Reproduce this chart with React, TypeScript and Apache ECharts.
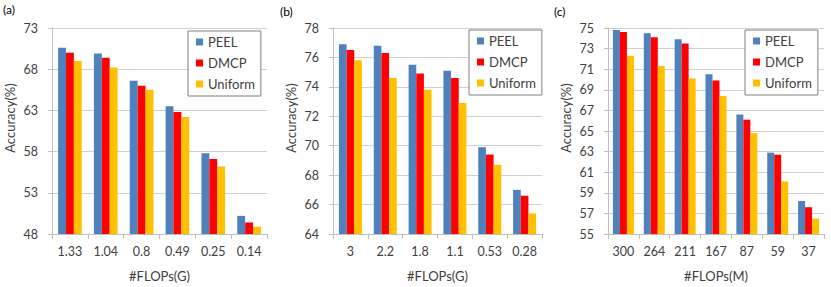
import React, { useEffect, useRef } from 'react';
import * as echarts from 'echarts';

const seriesNames = ['PEEL', 'DMCP', 'Uniform'];
const colors = ['#4F81BD', '#FF0000', '#FFC000'];

const catsA = ['1.33', '1.04', '0.8', '0.49', '0.25', '0.14'];
const peelA = [70.6, 69.9, 66.6, 63.5, 57.8, 50.2];
const dmcpA = [70.0, 69.4, 66.0, 62.8, 57.1, 49.4];
const uniA = [69.0, 68.2, 65.5, 62.2, 56.2, 48.9];

const catsB = ['3', '2.2', '1.8', '1.1', '0.53', '0.28'];
const peelB = [76.9, 76.8, 75.5, 75.1, 69.9, 67.0];
const dmcpB = [76.5, 76.3, 74.9, 74.6, 69.4, 66.6];
const uniB = [75.8, 74.6, 73.8, 72.9, 68.7, 65.4];

const catsC = ['300', '264', '211', '167', '87', '59', '37'];
const peelC = [74.8, 74.5, 73.9, 70.5, 66.6, 62.9, 58.2];
const dmcpC = [74.6, 74.1, 73.5, 69.9, 66.1, 62.7, 57.6];
const uniC = [72.3, 71.3, 70.1, 68.4, 64.8, 60.1, 56.5];

const panelLabels = ['(a)', '(b)', '(c)'];
const xNames = ['#FLOPs(G)', '#FLOPs(G)', '#FLOPs(M)'];
const yName = 'Accuracy(%)';
const yRanges = [
  { min: 48, max: 73, interval: 5 },
  { min: 64, max: 78, interval: 2 },
  { min: 55, max: 75, interval: 2 },
];

const FONT = 'Lato, "Liberation Sans", sans-serif';
const TEXT = '#404040';

export default function App() {
  const ref = useRef<HTMLDivElement>(null);
  useEffect(() => {
    if (!ref.current) return;
    const chart = echarts.init(ref.current, null, { renderer: 'svg' });
    const cats = [catsA, catsB, catsC];
    const data = [
      [peelA, dmcpA, uniA],
      [peelB, dmcpB, uniB],
      [peelC, dmcpC, uniC],
    ];
    const grids = [
      { left: 52, top: 28, width: 215, height: 207 },
      { left: 333, top: 28, width: 209, height: 207 },
      { left: 608, top: 28, width: 216, height: 207 },
    ];
    const legendPos = [
      { left: 188, top: 31 },
      { left: 469, top: 30 },
      { left: 745, top: 30 },
    ];
    const labelPos = [
      { x: 3, y: 3 },
      { x: 280, y: 5 },
      { x: 554, y: 5 },
    ];

    const series: any[] = [];
    data.forEach((panel, pi) => {
      panel.forEach((vals, si) => {
        series.push({
          type: 'bar',
          name: seriesNames[si],
          xAxisIndex: pi,
          yAxisIndex: pi,
          data: vals,
          barGap: '0%',
          barCategoryGap: pi === 2 ? '32%' : '34%',
          itemStyle: { color: colors[si] },
        });
      });
    });

    chart.setOption({
      animation: false,
      textStyle: { fontFamily: FONT },
      grid: grids.map((g) => ({ ...g, containLabel: false })),
      xAxis: cats.map((c, i) => ({
        type: 'category',
        gridIndex: i,
        data: c,
        name: xNames[i],
        nameLocation: 'middle',
        nameGap: 35,
        nameTextStyle: { color: TEXT, fontSize: 13, fontFamily: FONT },
        axisLine: { lineStyle: { color: '#BFBFBF', width: 1 } },
        axisTick: { show: true, alignWithLabel: false, length: 5, lineStyle: { color: '#BFBFBF' } },
        axisLabel: { color: TEXT, fontSize: 12.5, margin: 11, fontFamily: FONT },
        splitLine: { show: false },
      })),
      yAxis: yRanges.map((r, i) => ({
        type: 'value',
        gridIndex: i,
        min: r.min,
        max: r.max,
        interval: r.interval,
        name: yName,
        nameLocation: 'middle',
        nameGap: 36,
        nameRotate: 90,
        nameTextStyle: { color: TEXT, fontSize: 13, fontFamily: FONT, padding: [0, 0, 0, 26] },
        axisLine: { show: true, lineStyle: { color: '#BFBFBF', width: 1 } },
        axisTick: { show: true, length: 4, lineStyle: { color: '#BFBFBF' } },
        axisLabel: { color: TEXT, fontSize: 12.5, margin: 14, fontFamily: FONT },
        splitLine: { show: true, lineStyle: { color: '#D0D0D0', width: 1 } },
      })),
      legend: legendPos.map((p) => ({
        ...p,
        orient: 'vertical',
        data: seriesNames,
        selectedMode: false,
        icon: 'rect',
        itemWidth: 7,
        itemHeight: 7,
        itemGap: 7,
        padding: [4, 6, 5, 8],
        borderColor: '#7F7F7F',
        borderWidth: 1,
        backgroundColor: '#FFFFFF',
        textStyle: { color: TEXT, fontSize: 13, lineHeight: 14, fontFamily: FONT },
      })),
      graphic: labelPos.map((p, i) => ({
        type: 'text',
        left: p.x,
        top: p.y,
        style: { text: panelLabels[i], fontSize: 12, fill: '#000', fontFamily: FONT },
      })),
      series,
    });
    return () => chart.dispose();
  }, []);
  return (
    <div
      ref={ref}
      style={{ position: 'fixed', left: 0, top: 0, width: 831, height: 287, background: '#fff' }}
    />
  );
}
